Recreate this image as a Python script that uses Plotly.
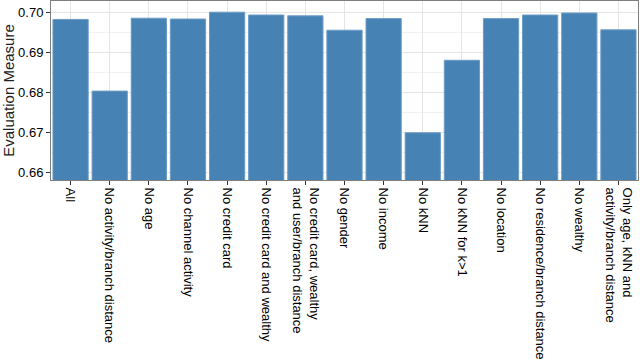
import plotly.graph_objects as go

# Feature-ablation results
categories = [
    "All",
    "No activity/branch distance",
    "No age",
    "No channel activity",
    "No credit card",
    "No credit card and wealthy",
    "No credit card, wealthy<br>and user/branch distance",
    "No gender",
    "No income",
    "No kNN",
    "No kNN for k>1",
    "No location",
    "No residence/branch distance",
    "No wealthy",
    "Only age, kNN and<br>activity/branch distance",
]
scores = [0.6982, 0.6803, 0.6985, 0.6983, 0.7000, 0.6993, 0.6991, 0.6955,
          0.6984, 0.6699, 0.6880, 0.6984, 0.6993, 0.6998, 0.6956]
y_ticks = [0.66, 0.67, 0.68, 0.69, 0.70]

fig = go.Figure(go.Bar(
    x=categories,
    y=scores,
    marker=dict(color="#4682B4", line=dict(color="#6C9BC6", width=1)),
))

fig.update_layout(
    width=640,
    height=360,
    margin=dict(l=51, r=2, t=1, b=180, autoexpand=False),
    plot_bgcolor="white",
    paper_bgcolor="white",
    bargap=0.1,
    showlegend=False,
    font=dict(family="Liberation Sans, Arial, sans-serif", color="black"),
)

fig.update_yaxes(
    automargin=False,
    range=[0.6581, 0.7028],
    tickvals=y_ticks,
    ticktext=[f"{v:.2f}" for v in y_ticks],
    tickfont=dict(size=13),
    ticks="outside",
    ticklen=4,
    tickcolor="#333333",
    showgrid=True,
    gridcolor="#E5E5E5",
    minor=dict(dtick=0.005, showgrid=True, gridcolor="#F2F2F2"),
    showline=True,
    linecolor="#7F7F7F",
    mirror=True,
    zeroline=False,
    title=dict(text="Evaluation Measure", font=dict(size=15, color="#222222"), standoff=6),
)

fig.update_xaxes(
    automargin=False,
    tickangle=90,
    tickfont=dict(size=13),
    ticks="outside",
    ticklen=4,
    tickcolor="#333333",
    showgrid=True,
    gridcolor="#E5E5E5",
    showline=True,
    linecolor="#7F7F7F",
    mirror=True,
)

# the page body has a default 8px margin; drop it so the figure fills the window
fig.write_html(
    "out.html",
    config={"displayModeBar": False},
    post_script="document.body.style.margin='0';",
)
